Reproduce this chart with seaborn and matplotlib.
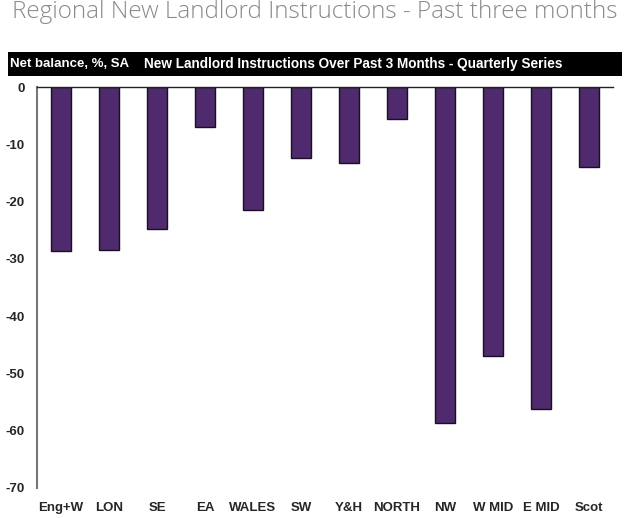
import matplotlib
matplotlib.use("Agg")
import matplotlib.pyplot as plt
import seaborn as sns
import pandas as pd
from matplotlib.patches import Rectangle

regions = ["Eng+W", "LON", "SE", "EA", "WALES", "SW", "Y&H", "NORTH", "NW", "W MID", "E MID", "Scot"]
values = [-28.6, -28.4, -24.8, -7.0, -21.4, -12.4, -13.3, -5.6, -58.6, -46.9, -56.2, -14.0]
yticks = [0, -10, -20, -30, -40, -50, -60, -70]

df = pd.DataFrame({"region": regions, "value": values})

sns.set_style("white")
plt.rcParams['font.family'] = ['Liberation Sans', 'DejaVu Sans']

W, H = 636, 518
fig = plt.figure(figsize=(W / 100, H / 100), dpi=100)
ax = fig.add_axes([37 / W, 1 - 488 / H, (613 - 37) / W, (488 - 87) / H])

sns.barplot(data=df, x="region", y="value", color="#4F2A6E", saturation=1,
            width=0.4, edgecolor="#1a1020", linewidth=1.0, ax=ax)

ax.set_xlim(-0.5, len(regions) - 0.5)
ax.set_ylim(-70, 0)
ax.set_yticks(yticks)
ax.set_yticklabels([str(t) for t in yticks], fontsize=9.5, fontweight="bold")
ax.set_xticks(range(len(regions)))
ax.set_xticklabels(regions, fontsize=9.5, fontweight="bold")
ax.set_xlabel("")
ax.set_ylabel("")
ax.tick_params(axis="y", length=0, pad=9)
ax.tick_params(axis="x", length=0, pad=10)
for s in ["right", "bottom"]:
    ax.spines[s].set_visible(False)
ax.spines["left"].set_color("#777777")
ax.spines["left"].set_linewidth(1.5)
ax.spines["top"].set_color("#222222")
ax.spines["top"].set_linewidth(1.0)

# black header band
fig.patches.append(Rectangle((8 / W, 1 - 76 / H), (622 - 8) / W, 24 / H,
                             transform=fig.transFigure, facecolor="black",
                             edgecolor="none", zorder=0))
fig.text(10 / W, 1 - 64 / H, "Net balance, %, SA", color="white",
         fontsize=9.5, fontweight="bold", va="center", ha="left")
fig.text(144 / W, 1 - 64 / H, "New Landlord Instructions Over Past 3 Months - Quarterly Series",
         color="white", fontsize=9.8, fontweight="bold", va="center", ha="left")

fig.text(12 / W, 1 - 18 / H, "Regional New Landlord Instructions - Past three months",
         color="#8a8a8a", fontsize=17.5, family=["Open Sans", "DejaVu Sans"],
         fontweight="light", va="baseline", ha="left")

fig.savefig("out.png", dpi=100, facecolor="white")
